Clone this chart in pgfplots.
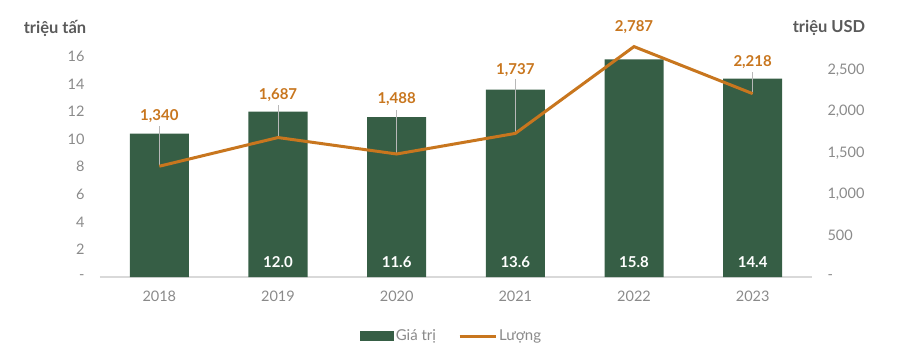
\documentclass[border=0pt]{standalone}
\usepackage{fontspec}
\setmainfont{Lato}
\usepackage{pgfplots}
\pgfplotsset{compat=1.18}
\definecolor{barg}{HTML}{365E45}
\definecolor{lineo}{HTML}{C8761E}
\definecolor{tickg}{HTML}{8A8A8A}
\definecolor{titg}{HTML}{5A5A5A}
\definecolor{leadg}{HTML}{B8B8B8}
\begin{document}
\begin{tikzpicture}
\useasboundingbox (-100pt,-82pt) rectangle (800pt,277pt);
\pgfplotsset{every axis/.append style={scale only axis, width=712pt, height=248pt,
  xmin=-0.5, xmax=5.5, at={(0,0)}, anchor=south west, clip=false,
  /pgf/number format/assume math mode=true,
  tick label style={font=\fontsize{14.5}{16}\selectfont, text=tickg},
  major tick length=0pt}}
\begin{axis}[
  ymin=0, ymax=18, ytick={0,2,...,16}, yticklabels={-,2,4,6,8,10,12,14,16},
  axis x line=bottom, axis y line=left,
  x axis line style={draw=black!15, line width=1.2pt, -},
  y axis line style={draw=none},
  xtick={0,...,5}, xticklabels={2018,2019,2020,2021,2022,2023},
  xticklabel style={yshift=-10pt},
  yticklabel style={xshift=-12pt},
]
\addplot[ybar, bar width=59pt, fill=barg, draw=none] coordinates {
  (0,10.4) (1,12.0) (2,11.6) (3,13.6) (4,15.8) (5,14.4)};
\addplot[draw=none, mark=none, nodes near coords={\pgfplotspointmeta},
  point meta=explicit symbolic,
  every node near coord/.style={anchor=center, text=white, font=\fontsize{15}{17}\selectfont\bfseries}]
  coordinates {(1,1.1)[12.0] (2,1.1)[11.6] (3,1.1)[13.6] (4,1.1)[15.8] (5,1.1)[14.4]};
\end{axis}
\begin{axis}[
  ymin=0, ymax=3000, ytick={0,500,...,2500},
  yticklabels={-,500,{1,000},{1,500},{2,000},{2,500}},
  axis x line=none, axis y line*=right,
  y axis line style={draw=none},
  yticklabel style={xshift=12pt, anchor=west},
  legend style={at={(0.494,-0.238)}, anchor=center, legend columns=2, draw=none,
    font=\fontsize{15}{17}\selectfont, text=tickg,
    /tikz/every even column/.append style={column sep=20pt}},
]
\addlegendimage{legend image code/.code={\fill[barg] (0pt,-4.5pt) rectangle (33pt,4.5pt);}}
\addlegendentry{Giá trị}
\addplot[draw=none, mark=none, forget plot,
  error bars/.cd, y dir=plus, y explicit, error mark=none,
  error bar style={leadg, line width=0.9pt}]
  table[x=x, y=y, y error=ey] {
x y ey
0 1340 488
1 1687 395
2 1488 534
3 1737 660
5 2218 264
};
\addplot[lineo, line width=3pt, mark=none,
  legend image code/.code={\draw[lineo, line width=3pt] (0pt,0pt) -- (36pt,0pt);}]
  coordinates {(0,1340) (1,1687) (2,1488) (3,1737) (4,2787) (5,2218)};
\addlegendentry{Lượng}
\addplot[draw=none, mark=none, forget plot, nodes near coords={\pgfplotspointmeta},
  point meta=explicit symbolic,
  every node near coord/.style={anchor=center, text=lineo, font=\fontsize{15}{17}\selectfont\bfseries}]
  coordinates {(0,1949)[1,340] (1,2203)[1,687] (2,2155)[1,488] (3,2506)[1,737] (4,3027)[2,787] (5,2603)[2,218]};
\end{axis}
\node[anchor=center, text=titg, font=\fontsize{16.5}{18}\selectfont\bfseries] at (-45pt,249pt) {triệu tấn};
\node[anchor=center, text=titg, font=\fontsize{16.5}{18}\selectfont\bfseries] at (729pt,249pt) {triệu USD};
\end{tikzpicture}
\end{document}
